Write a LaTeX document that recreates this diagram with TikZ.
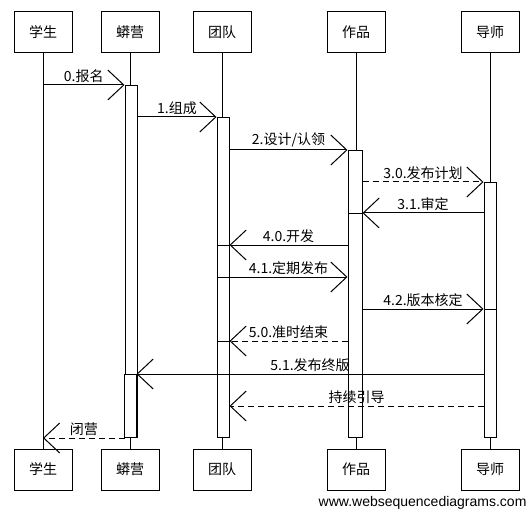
\documentclass[tikz,border=0pt]{standalone}
\usepackage{fontspec}
\setmainfont{Noto Sans CJK SC}
\newfontfamily\webfont{Liberation Sans}
\usetikzlibrary{arrows.meta}
\usetikzlibrary{positioning}

\begin{document}
\begin{tikzpicture}[
    x=1pt, y=-1pt,
    actor/.style={
        rectangle,
        draw,
        line width=1pt,
        minimum width=58pt,
        minimum height=41pt,
        font=\fontsize{14}{16}\selectfont
    },
    bar/.style={
        rectangle,
        draw,
        fill=white,
        line width=1pt,
        minimum width=12pt,
        inner sep=0pt,
        anchor=north
    },
    msg/.style={
        line width=1pt,
        -{Straight Barb[length=16pt, width=30pt]}
    },
    reply/.style={msg, dash pattern=on 6pt off 4pt},
    lbl/.style={midway, above=1pt, inner sep=1pt, font=\fontsize{14}{16}\selectfont}
]
    \useasboundingbox (0,0) rectangle (530,513);

    % Participantes
    \node (tS) [actor] at (43,32.5) {学生};
    \node (tA) [actor] at (130,32.5) {蟒营};
    \node (tB) [actor] at (222,32.5) {团队};
    \node (tC) [actor] at (356,32.5) {作品};
    \node (tD) [actor] at (490,32.5) {导师};
    \node (bS) [actor, below=395pt of tS] {学生};
    \node (bA) [actor, below=395pt of tA] {蟒营};
    \node (bB) [actor, below=395pt of tB] {团队};
    \node (bC) [actor, below=395pt of tC] {作品};
    \node (bD) [actor, below=395pt of tD] {导师};

    % Lineas de vida
    \foreach \p in {S,A,B,C,D}
        \draw [line width=1pt] (t\p.south) -- (b\p.north);

    % Barras de activacion
    \node (barA) [bar, minimum height=352pt] at (131,85) {};
    \node (barA2) [bar, minimum height=63pt] at (130,374) {};
    \node (barB) [bar, minimum height=320pt] at (223,117) {};
    \node (barB2) [bar, minimum height=192pt] at (223,245) {};
    \node (barB3) [bar, minimum height=160pt] at (223,277) {};
    \node (barB4) [bar, minimum height=96pt] at (223,341) {};
    \node (barC) [bar, minimum width=14pt, minimum height=287pt] at (355,150) {};
    \node (barC2) [bar, minimum width=14pt, minimum height=224pt] at (355,213) {};
    \node (barD) [bar, minimum height=255pt] at (490,182) {};
    \node (barD2) [bar, minimum height=128pt] at (490,309) {};
    \coordinate (guide) at (0,406);

    % Mensajes
    \draw [msg] (tS.south |- barA.north) -- (barA.north west) node [lbl] {0.报名};
    \draw [msg] (barA.north east |- barB.north) -- (barB.north west) node [lbl] {1.组成};
    \draw [msg] (barB.north east |- barC.north) -- (barC.north west) node [lbl] {2.设计/认领};
    \draw [reply] (barC.north east |- barD.north) -- (barD.north west) node [lbl] {3.0.发布计划};
    \draw [msg] (barD.north west |- barC2.north) -- (barC2.north east) node [lbl] {3.1.审定};
    \draw [msg] (barC.west |- barB2.north) -- (barB2.north east) node [lbl] {4.0.开发};
    \draw [msg] (barB2.east |- barB3.north) -- (barC.west |- barB3.north) node [lbl] {4.1.定期发布};
    \draw [msg] (barC.east |- barD2.north) -- (barD2.north west) node [lbl] {4.2.版本核定};
    \draw [reply] (barC.west |- barB4.north) -- (barB4.north east) node [lbl] {5.0.准时结束};
    \draw [msg] (barD.west |- barA2.north) -- (barA2.north east) node [lbl] {5.1.发布终版};
    \draw [reply] (barD.west |- guide) -- (barB.east |- guide) node [lbl] {持续引导};
    \draw [reply] (barA.south west) -- (tS.south |- barA.south) node [lbl] {闭营};

    \node (credit) [anchor=east, font=\webfont\fontsize{14}{16}\selectfont] at (530,503) {www.websequencediagrams.com};
\end{tikzpicture}
\end{document}
